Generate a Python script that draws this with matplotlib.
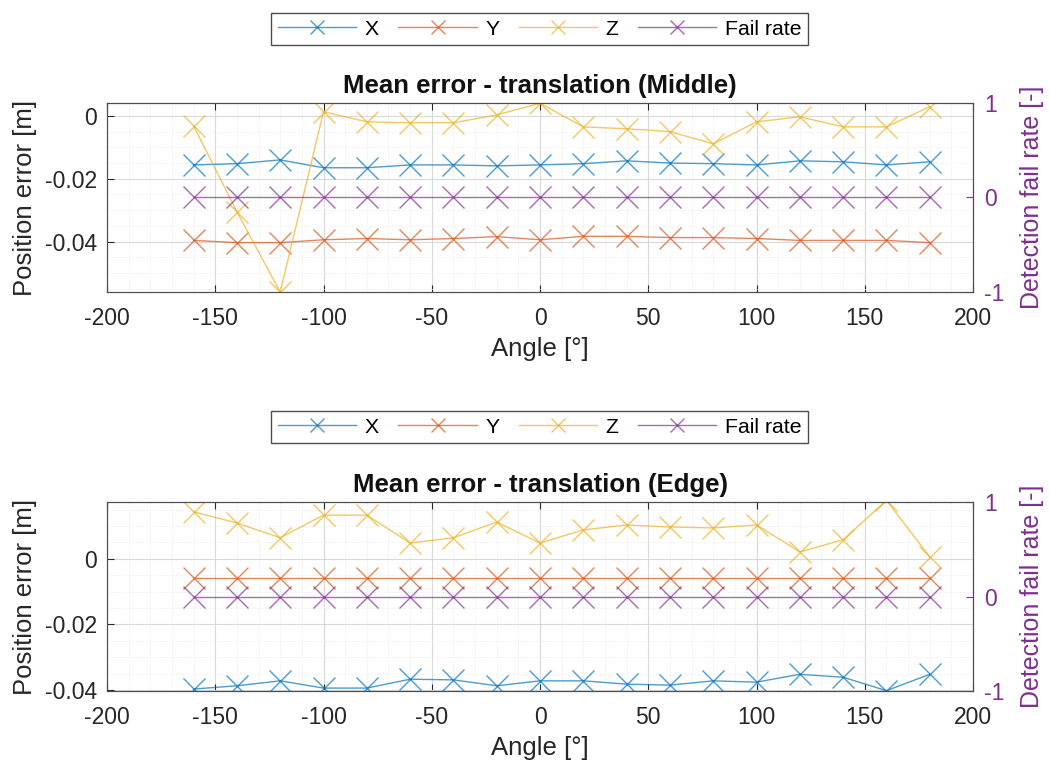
import matplotlib

matplotlib.use("Agg")
import matplotlib.pyplot as plt
from matplotlib.ticker import AutoMinorLocator, FormatStrFormatter, MultipleLocator

plt.rcParams["font.family"] = ["Liberation Sans", "DejaVu Sans"]
plt.rcParams["axes.unicode_minus"] = False

ANGLES = [-160, -140, -120, -100, -80, -60, -40, -20, 0,
          20, 40, 60, 80, 100, 120, 140, 160, 180]

# Middle position, mean translation error [m]
MID_X = [-0.0156, -0.0152, -0.0140, -0.0165, -0.0165, -0.0156, -0.0156, -0.0159, -0.0156,
         -0.0152, -0.0143, -0.0150, -0.0152, -0.0156, -0.0143, -0.0146, -0.0156, -0.0146]
MID_Y = [-0.0396, -0.0403, -0.0403, -0.0394, -0.0390, -0.0394, -0.0390, -0.0384, -0.0394,
         -0.0383, -0.0383, -0.0387, -0.0387, -0.0390, -0.0396, -0.0396, -0.0396, -0.0403]
MID_Z = [-0.0032, -0.0305, -0.0560, 0.0013, -0.0019, -0.0022, -0.0022, 0.0003, 0.0040,
         -0.0035, -0.0041, -0.0050, -0.0089, -0.0019, -0.0003, -0.0035, -0.0035, 0.0029]
MID_FAIL = [0] * len(ANGLES)

# Edge position, mean translation error [m]
EDGE_X = [-0.0397, -0.0387, -0.0372, -0.0394, -0.0394, -0.0367, -0.0369, -0.0387, -0.0372,
          -0.0372, -0.0382, -0.0385, -0.0372, -0.0376, -0.0352, -0.0361, -0.0402, -0.0352]
EDGE_Y = [-0.0058] * len(ANGLES)
EDGE_Z = [0.0143, 0.0109, 0.0064, 0.0133, 0.0133, 0.0048, 0.0064, 0.0112, 0.0048,
          0.0088, 0.0103, 0.0097, 0.0094, 0.0103, 0.0021, 0.0058, 0.0178, 0.0006]
EDGE_FAIL = [0] * len(ANGLES)

COLORS = ["#0072BD", "#D95319", "#EDB120", "#7E2F8E"]
LABELS = ["X", "Y", "Z", "Fail rate"]
AX_COLOR = "#262626"
FAIL_COLOR = "#7E2F8E"
TICK_FS = 16.5
LABEL_FS = 18.5


def panel(fig, rect, title, xs, ys, zs, fail, ylim):
    ax = fig.add_axes(rect)
    handles = []
    for vals, color in zip([xs, ys, zs], COLORS[:3]):
        (h,) = ax.plot(ANGLES, vals, color=color, marker="x", markersize=16,
                       markeredgewidth=1.0, linewidth=1.0, alpha=0.7)
        handles.append(h)
    ax.set_xlim(-200, 200)
    ax.set_ylim(*ylim)
    ax.xaxis.set_major_locator(MultipleLocator(50))
    ax.yaxis.set_major_locator(MultipleLocator(0.02))
    ax.yaxis.set_major_formatter(FormatStrFormatter("%g"))
    ax.xaxis.set_minor_locator(AutoMinorLocator(5))
    ax.yaxis.set_minor_locator(AutoMinorLocator(4))
    ax.grid(which="major", color="#d9d9d9", linewidth=0.8)
    ax.grid(which="minor", color="#e6e6e6", linewidth=0.6, linestyle=":")
    ax.set_axisbelow(True)
    ax.tick_params(which="both", direction="in", top=True, right=False,
                   labelsize=TICK_FS, colors=AX_COLOR, length=5)
    ax.tick_params(axis="x", pad=11)
    ax.tick_params(axis="y", pad=7)
    ax.tick_params(which="minor", length=0)
    ax.set_xlabel("Angle [°]", fontsize=LABEL_FS, color=AX_COLOR, labelpad=5)
    ax.set_ylabel("Position error [m]", fontsize=LABEL_FS, color=AX_COLOR, labelpad=6)
    ax.set_title(title, fontsize=18.5, fontweight="bold", color="#111111", pad=7)
    for sp in ax.spines.values():
        sp.set_color("#4d4d4d")

    ax2 = ax.twinx()
    (h,) = ax2.plot(ANGLES, fail, color=COLORS[3], marker="x", markersize=16,
                    markeredgewidth=1.0, linewidth=1.0, alpha=0.7)
    handles.append(h)
    ax2.set_ylim(-1, 1)
    ax2.set_yticks([-1, 0, 1])
    ax2.tick_params(direction="in", labelsize=TICK_FS, colors=FAIL_COLOR, length=5, pad=8)
    ax2.set_ylabel("Detection fail rate [-]", fontsize=18, color=FAIL_COLOR, labelpad=11)
    for sp in ax2.spines.values():
        sp.set_color("#4d4d4d")
    return handles


def add_legend(fig, handles, y):
    fig.legend(handles, LABELS, loc="center", bbox_to_anchor=(0.514, y), ncol=4,
               fontsize=15.3, frameon=True, fancybox=False, edgecolor="#4d4d4d",
               handlelength=3.7, columnspacing=0.9, handletextpad=0.4,
               borderpad=0.3, markerscale=0.6, framealpha=1)


fig = plt.figure(figsize=(10.5, 7.69), dpi=100)

h_top = panel(fig, [0.1019, 0.6203, 0.8248, 0.2458],
              "Mean error - translation (Middle)", MID_X, MID_Y, MID_Z, MID_FAIL,
              (-0.056, 0.0041))
add_legend(fig, h_top, 0.962)

h_bot = panel(fig, [0.1019, 0.1014, 0.8248, 0.2458],
              "Mean error - translation (Edge)", EDGE_X, EDGE_Y, EDGE_Z, EDGE_FAIL,
              (-0.0403, 0.0173))
add_legend(fig, h_bot, 0.4447)

fig.savefig("out.png", dpi=100)
